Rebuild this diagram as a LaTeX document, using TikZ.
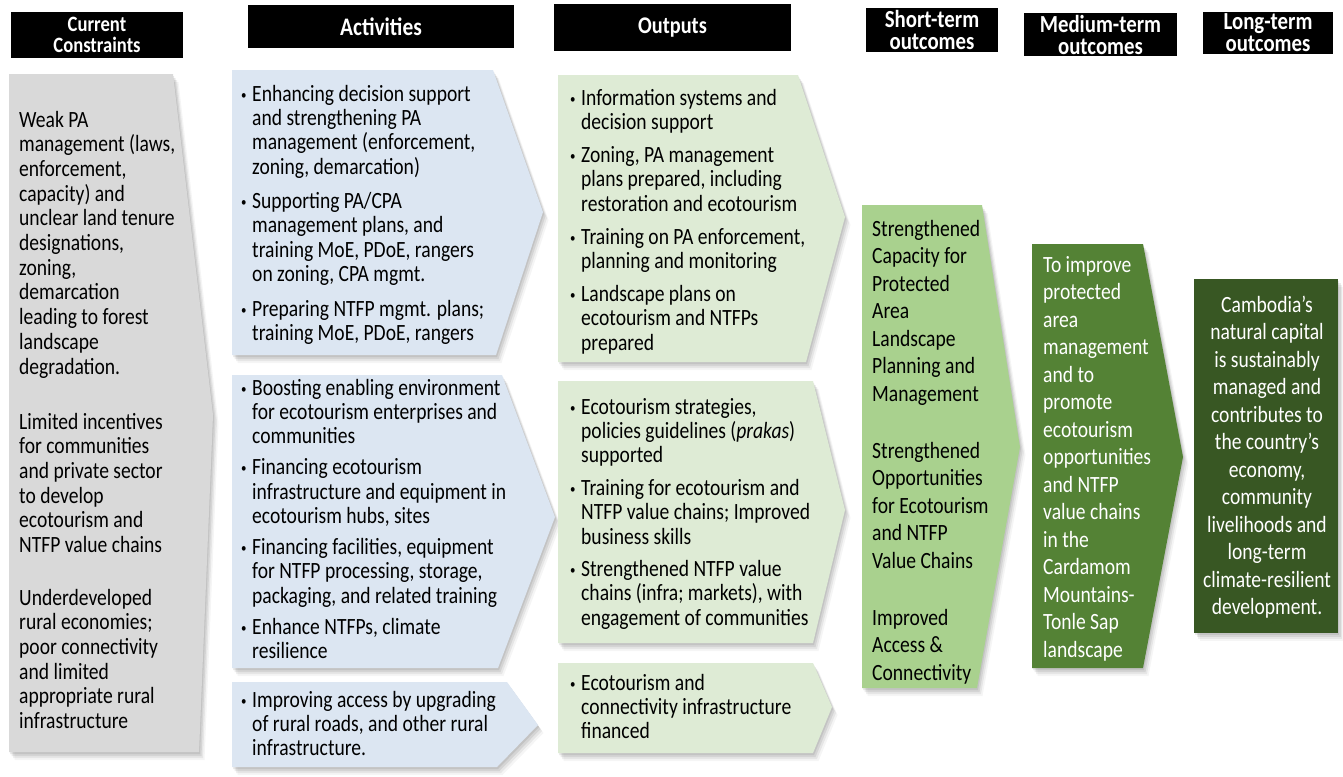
\documentclass[tikz,border=0pt]{standalone}
\usepackage{fontspec}
\setmainfont{Carlito}[FakeStretch=0.84]
\newfontfamily\hdrfont{Carlito}[FakeStretch=0.85]

% bullet item with hanging indent (line breaks stay inside the paragraph)
\newcommand\bul{\makebox[11pt][l]{\raisebox{2pt}{\fontsize{13}{13}\selectfont\textbullet}}}
\newcommand\itm[1]{\par\hangindent=11pt\hangafter=1\noindent\bul{\let\\\newline #1}\par}
% left-aligned and centred text blocks
\newcommand\lblock[1]{\parbox[t]{320pt}{\raggedright\parskip=0pt #1}}
\newcommand\cblock[2]{\parbox[t]{#1}{\centering\parskip=0pt #2}}

\definecolor{cgrey}{HTML}{D9D9D9}
\definecolor{cblue}{HTML}{DCE6F2}
\definecolor{cpale}{HTML}{DEEBD5}
\definecolor{cshort}{HTML}{A9D18E}
\definecolor{cmed}{HTML}{548235}
\definecolor{clong}{HTML}{385723}

\begin{document}
\begin{tikzpicture}[x=1pt,y=-1pt,
  soft shadow/.style={
    preaction={fill=black,fill opacity=.08,transform canvas={shift={(1pt,-2pt)}}},
    preaction={fill=black,fill opacity=.08,transform canvas={shift={(2.5pt,-4pt)}}},
    preaction={fill=black,fill opacity=.06,transform canvas={shift={(4pt,-6pt)}}},
    preaction={fill=black,fill opacity=.04,transform canvas={shift={(5.5pt,-8pt)}}}},
  hdr/.style={fill=black,text=white,inner sep=0pt,align=center,
    font=\hdrfont\bfseries\fontsize{24.5}{22}\selectfont},
  txt/.style={anchor=base west,inner sep=0pt},
  ctxt/.style={anchor=base,inner sep=0pt},
  body/.style={font=\fontsize{23.3}{24.4}\selectfont},
  tall/.style={font=\fontsize{23.3}{27.5}\selectfont}]
\useasboundingbox (0,0) rectangle (1343,776);
\fill[white] (0,0) rectangle (1343,776);

% column headings
\node[hdr,minimum width=172pt,minimum height=46pt,
  font=\hdrfont\bfseries\fontsize{21.9}{21.5}\selectfont] (h1) at (97,35) {Current\\Constraints};
\node[hdr,minimum width=266pt,minimum height=43pt,
  font=\hdrfont\bfseries\fontsize{25.2}{22}\selectfont] (h2) at (381,26.5) {Activities};
\node[hdr,minimum width=237pt,minimum height=47pt,
  font=\hdrfont\bfseries\fontsize{23.9}{22}\selectfont] (h3) at (672.5,27.5) {Outputs};
\node[hdr,minimum width=132pt,minimum height=44pt] (h4) at (932,30) {Short-term\\outcomes};
\node[hdr,minimum width=153pt,minimum height=43pt] (h5) at (1100.5,34.5) {Medium-term\\outcomes};
\node[hdr,minimum width=130pt,minimum height=42pt] (h6) at (1268,33) {Long-term\\outcomes};

% chevron panels
\fill[cgrey,soft shadow] (9,74) -- (173,74) -- (213,415) -- (199,752) -- (9,752) -- cycle;

\fill[cblue,soft shadow] (232,70) -- (493,70) -- (543,212) -- (496,355) -- (232,355) -- cycle;
\fill[cblue,soft shadow] (232,375) -- (502,375) -- (555,517) -- (498,668) -- (232,668) -- cycle;
\fill[cblue,soft shadow] (232,682) -- (507,682) -- (538,725) -- (497,767) -- (232,767) -- cycle;

\fill[cpale,soft shadow] (558,75) -- (798,75) -- (845,217) -- (806,362) -- (558,362) -- cycle;
\fill[cpale,soft shadow] (558,381) -- (813,381) -- (845,510) -- (813,643) -- (558,643) -- cycle;
\fill[cpale,soft shadow] (558,663) -- (813,663) -- (832,707) -- (813,753) -- (558,753) -- cycle;

\fill[cshort,soft shadow] (862,205) -- (982,205) -- (1020,447) -- (977,688) -- (862,688) -- cycle;
\fill[cmed,soft shadow] (1032,244) -- (1143,244) -- (1183,457) -- (1143,668) -- (1032,668) -- cycle;
\fill[clong,soft shadow] (1194,279) rectangle (1338,633);

% current constraints
\begin{scope}[font=\fontsize{23.3}{24.7}\selectfont]
\node[txt] (c1) at (19,127) {\lblock{Weak PA\\management (laws,\\enforcement,\\capacity) and\\unclear land tenure\\designations,\\zoning,\\demarcation\\leading to forest\\landscape\\degradation.}};
\node[txt] (c2) at (19,429) {\lblock{Limited incentives\\for communities\\and private sector\\to develop\\ecotourism and\\NTFP value chains}};
\node[txt] (c3) at (19,605) {\lblock{Underdeveloped\\rural economies;\\poor connectivity\\and limited\\appropriate rural\\infrastructure}};
\end{scope}

% activities
\node[txt,body] (a1) at (241,101) {\lblock{%
\itm{Enhancing decision support\\and strengthening PA\\management (enforcement,\\zoning, demarcation)}\vspace{10pt}%
\itm{Supporting PA/CPA\\management plans, and\\training MoE, PDoE, rangers\\on zoning, CPA mgmt.}\vspace{10pt}%
\itm{Preparing NTFP mgmt. plans;\\training MoE, PDoE, rangers}}};
\node[txt,body] (a2) at (241,395) {\lblock{%
\itm{Boosting enabling environment\\for ecotourism enterprises and\\communities}\vspace{6.5pt}%
\itm{Financing ecotourism\\infrastructure and equipment in\\ecotourism hubs, sites}\vspace{6.5pt}%
\itm{Financing facilities, equipment\\for NTFP processing, storage,\\packaging, and related training}\vspace{6.5pt}%
\itm{Enhance NTFPs, climate\\resilience}}};
\node[txt,body] (a3) at (241,707) {\lblock{%
\itm{Improving access by upgrading\\of rural roads, and other rural\\infrastructure.}}};

% outputs
\node[txt,body] (o1) at (570,105) {\lblock{%
\itm{Information systems and\\decision support}\vspace{8.5pt}%
\itm{Zoning, PA management\\plans prepared, including\\restoration and ecotourism}\vspace{8.5pt}%
\itm{Training on PA enforcement,\\planning and monitoring}\vspace{8.5pt}%
\itm{Landscape plans on\\ecotourism and NTFPs\\prepared}}};
\node[txt,body] (o2) at (570,414) {\lblock{%
\itm{Ecotourism strategies,\\policies guidelines (\textit{prakas})\\supported}\vspace{8pt}%
\itm{Training for ecotourism and\\NTFP value chains; Improved\\business skills}\vspace{8pt}%
\itm{Strengthened NTFP value\\chains (infra; markets), with\\engagement of communities}}};
\node[txt,body] (o3) at (570,690) {\lblock{%
\itm{Ecotourism and\\connectivity infrastructure\\financed}}};

% outcomes
\node[txt,tall] (s1) at (872,236) {\lblock{Strengthened\\Capacity for\\Protected\\Area\\Landscape\\Planning and\\Management\par\vspace{29.5pt}%
Strengthened\\Opportunities\\for Ecotourism\\and NTFP\\Value Chains\par\vspace{29.5pt}%
Improved\\Access \&\\Connectivity}};
\node[txt,tall,text=white] (m1) at (1043,272) {\lblock{To improve\\protected\\area\\management\\and to\\promote\\ecotourism\\opportunities\\and NTFP\\value chains\\in the\\Cardamom\\Mountains-\\Tonle Sap\\landscape}};
\node[ctxt,tall,text=white] (l1) at (1267,312) {\cblock{150pt}{Cambodia’s\\natural capital\\is sustainably\\managed and\\contributes to\\the country’s\\economy,\\community\\livelihoods and\\long-term\\climate-resilient\\development.}};
\end{tikzpicture}
\end{document}
